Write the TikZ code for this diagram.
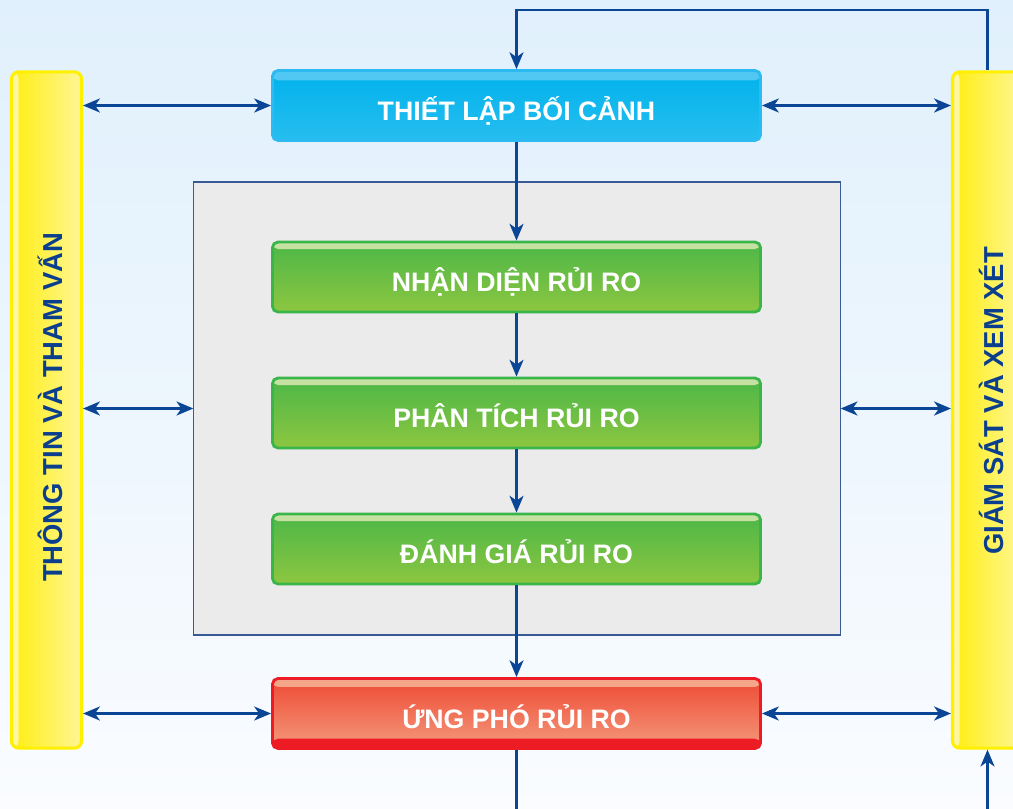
\documentclass[tikz,border=0pt]{standalone}
\usepackage{fontspec}
\setmainfont{Liberation Sans}
\usepackage{tikz}
\usetikzlibrary{positioning}
\usetikzlibrary{arrows.meta}

\definecolor{bgtop}{HTML}{E0F0FC}
\definecolor{bgbottom}{HTML}{FAFCFF}
\definecolor{arrowblue}{HTML}{0B4595}
\definecolor{framegrey}{HTML}{EBEBEB}
\definecolor{frameedge}{HTML}{3A5A96}
\definecolor{cyanfill}{HTML}{00B2EC}
\definecolor{cyanedge}{HTML}{2DBAF0}
\definecolor{cyanlight}{HTML}{50C8F3}
\definecolor{greentop}{HTML}{4CB748}
\definecolor{greenbottom}{HTML}{8DC640}
\definecolor{greenedge}{HTML}{39B54A}
\definecolor{greenlight}{HTML}{C5E2A2}
\definecolor{redtop}{HTML}{EE4A34}
\definecolor{redbottom}{HTML}{F49A7C}
\definecolor{rededge}{HTML}{ED1C24}
\definecolor{redlight}{HTML}{F5A689}
\definecolor{yellowleft}{HTML}{FFEE10}
\definecolor{yellowright}{HTML}{FFF695}
\definecolor{yellowedge}{HTML}{FFF000}
\definecolor{yellowlight}{HTML}{FFF7A0}
\definecolor{sidetext}{HTML}{0B3F8E}

\begin{document}
\begin{tikzpicture}[x=0.025cm, y=-0.025cm,
    stepbox/.style={rounded corners=4pt, minimum width=12.2cm, minimum height=1.75cm,
        line width=2pt, text=white, text height=21pt, text depth=0pt,
        font=\bfseries\fontsize{19}{22}\selectfont},
    setupbox/.style={stepbox, draw=cyanedge, top color=cyanfill, bottom color=cyanfill!85!white,
        path picture={\fill[cyanlight] (path picture bounding box.north west) rectangle
            ([yshift=-7pt]path picture bounding box.north east);}},
    assessbox/.style={stepbox, draw=greenedge, top color=greentop, bottom color=greenbottom,
        path picture={\fill[greenlight] (path picture bounding box.north west) rectangle
            ([yshift=-5pt]path picture bounding box.north east);}},
    treatbox/.style={stepbox, draw=rededge, top color=redtop, bottom color=redbottom,
        path picture={\fill[redlight] (path picture bounding box.north west) rectangle
            ([yshift=-6pt]path picture bounding box.north east);
            \fill[rededge] (path picture bounding box.south west) rectangle
            ([yshift=7pt]path picture bounding box.south east);}},
    sidebar/.style={rounded corners=5pt, minimum width=1.75cm, minimum height=16.9cm,
        line width=2.2pt, draw=yellowedge, left color=yellowleft, right color=yellowright,
        path picture={\fill[yellowlight] (path picture bounding box.north west) rectangle
            ([xshift=5pt]path picture bounding box.south west);}},
    sidelabel/.style={rotate=90, text=sidetext, font=\bfseries\fontsize{19.5}{22}\selectfont},
    flow/.style={draw=arrowblue, line width=1.6pt, -{Stealth[length=12pt, width=10pt, inset=3.5pt]}},
    twoway/.style={flow, {Stealth[length=12pt, width=10pt, inset=3.5pt]}-{Stealth[length=12pt, width=10pt, inset=3.5pt]}}
]
\clip (0,0) rectangle (1013,809);
\shade[top color=bgtop, bottom color=bgbottom] (0,0) rectangle (1013,809);

\node[draw=frameedge, line width=0.8pt, fill=framegrey, minimum width=16.15cm, minimum height=11.32cm] (riskzone) at (517,408.5) {};

\node[setupbox] (context) at (516.5,105.5) {THIẾT LẬP BỐI CẢNH};
\node[assessbox] (identify) at (516.5,277) {NHẬN DIỆN RỦI RO};
\node[assessbox] (analyse) at (516.5,413) {PHÂN TÍCH RỦI RO};
\node[assessbox] (evaluate) at (516.5,549) {ĐÁNH GIÁ RỦI RO};
\node[treatbox] (respond) at (516.5,713.5) {ỨNG PHÓ RỦI RO};

\node[sidebar] (infobar) at (46.5,410) {};
\node[sidelabel] (infotext) at (50,407.5) {THÔNG TIN VÀ THAM VẤN};
\node[sidebar] (monitorbar) at (987.5,410) {};
\node[sidelabel] (monitortext) at (991,401) {GIÁM SÁT VÀ XEM XÉT};

\coordinate (looptop) at (987.5,10);
\coordinate (downend) at (516.5,815);
\coordinate (upstart) at (987.5,815);

\draw[flow] (monitorbar.north) -- (looptop) -| (context.north);
\draw[flow] (context) -- (identify);
\draw[flow] (identify) -- (analyse);
\draw[flow] (analyse) -- (evaluate);
\draw[flow] (evaluate) -- (respond);
\draw[flow, -] (respond) -- (downend);
\draw[flow] (upstart) -- (monitorbar.south);

\draw[twoway] (infobar.east |- context.west) -- (context.west);
\draw[twoway] (infobar.east |- riskzone.west) -- (riskzone.west);
\draw[twoway] (infobar.east |- respond.west) -- (respond.west);
\draw[twoway] (context.east) -- (monitorbar.west |- context.east);
\draw[twoway] (riskzone.east) -- (monitorbar.west |- riskzone.east);
\draw[twoway] (respond.east) -- (monitorbar.west |- respond.east);
\end{tikzpicture}
\end{document}
